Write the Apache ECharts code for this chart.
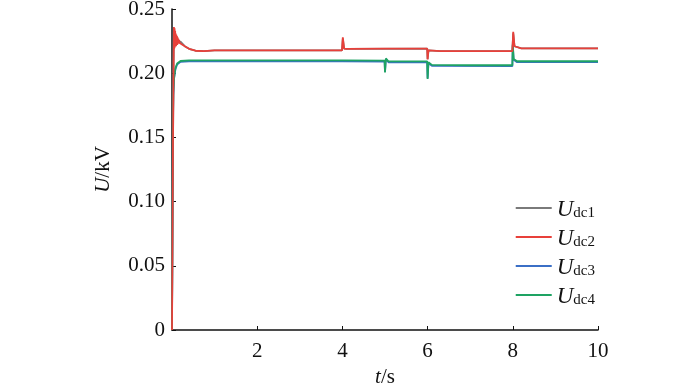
<!DOCTYPE html>
<html>
<head>
<meta charset="utf-8">
<script src="https://cdn.jsdelivr.net/npm/echarts@6/dist/echarts.min.js"></script>
<style>
  html, body { margin: 0; padding: 0; background: #fff; }
  #chart { width: 700px; height: 388px; }
</style>
</head>
<body>
<div id="chart"></div>
<script>
// series names (subscripts)
var seriesNames = ['dc1', 'dc2', 'dc3', 'dc4'];
var xTicks = [0, 2, 4, 6, 8, 10];
var yTicks = [0, 0.05, 0.10, 0.15, 0.20, 0.25];

// Udc2 - red, [t, U]
var udc2 = [
    [0, 0], [0.01, 0.06], [0.02, 0.13], [0.035, 0.2], [0.045, 0.236], [0.052, 0.219],
    [0.06, 0.235], [0.067, 0.22], [0.074, 0.233], [0.081, 0.221], [0.088, 0.231],
    [0.095, 0.221], [0.102, 0.23], [0.109, 0.222], [0.116, 0.229], [0.123, 0.222],
    [0.13, 0.228], [0.138, 0.223], [0.146, 0.227], [0.155, 0.223], [0.165, 0.226],
    [0.18, 0.2235], [0.2, 0.2245], [0.3, 0.221], [0.4, 0.219], [0.55, 0.2175],
    [0.75, 0.2172], [1, 0.2178], [2, 0.2178], [3, 0.2178], [3.99, 0.2178],
    [4.01, 0.228], [4.04, 0.2192], [4.1, 0.219], [5, 0.2192], [5.99, 0.2192],
    [6.0, 0.2107], [6.02, 0.2178], [6.3, 0.2172], [7, 0.2172], [7.99, 0.2172],
    [8.01, 0.2322], [8.04, 0.221], [8.2, 0.2193], [9, 0.2193], [10, 0.2193]
];
// Udc1 - gray, hidden under red
var udc1 = [
    [0, 0], [0.02, 0.13], [0.045, 0.234], [0.08, 0.222], [0.12, 0.224], [0.2, 0.2245],
    [0.3, 0.221], [0.4, 0.219], [0.55, 0.2175], [0.75, 0.2172], [1, 0.2178],
    [3.99, 0.2178], [4.01, 0.227], [4.04, 0.2192], [4.1, 0.219], [5.99, 0.2192],
    [6.0, 0.211], [6.02, 0.2178], [6.3, 0.2172], [7.99, 0.2172], [8.01, 0.231],
    [8.04, 0.221], [8.2, 0.2193], [10, 0.2193]
];
// Udc4 - green
var udc4 = [
    [0, 0], [0.01, 0.08], [0.02, 0.15], [0.03, 0.185], [0.05, 0.197], [0.08, 0.204],
    [0.12, 0.2075], [0.2, 0.2095], [0.4, 0.21], [1, 0.21], [2, 0.21], [3, 0.21],
    [4, 0.21], [4.99, 0.2098], [5.0, 0.2005], [5.02, 0.2115], [5.08, 0.2092],
    [5.99, 0.2092], [6.0, 0.1955], [6.02, 0.2085], [6.1, 0.2065], [7, 0.2062],
    [7.99, 0.2062], [8.0, 0.2225], [8.02, 0.211], [8.1, 0.2093], [9, 0.2093],
    [10, 0.2093]
];
// Udc3 - blue, just under green
var udc3 = [
    [0, 0], [0.01, 0.078], [0.02, 0.148], [0.03, 0.183], [0.05, 0.196], [0.08, 0.203],
    [0.12, 0.2068], [0.2, 0.2088], [0.4, 0.2093], [1, 0.2093], [4, 0.2093],
    [4.99, 0.2091], [5.0, 0.201], [5.02, 0.211], [5.08, 0.2085], [5.99, 0.2085],
    [6.0, 0.196], [6.02, 0.2078], [6.1, 0.2058], [7.99, 0.2055], [8.0, 0.222],
    [8.02, 0.2105], [8.1, 0.2086], [10, 0.2086]
];

var colors = ['#7a7a7a', '#e8403a', '#3b6fc6', '#1ea363'];
var serif = '"Liberation Serif", "DejaVu Serif", serif';

var chart = echarts.init(document.getElementById('chart'));

function makeSeries(i, data, z) {
    return {
        name: seriesNames[i],
        type: 'line',
        data: data,
        showSymbol: false,
        z: z,
        lineStyle: { color: colors[i], width: 1.8 },
        itemStyle: { color: colors[i] },
        animation: false
    };
}

var option = {
    backgroundColor: '#fff',
    grid: { left: 172, right: 102, top: 9, bottom: 58, containLabel: false, outerBoundsMode: 'none' },
    legend: {
        orient: 'vertical',
        right: 100,
        top: 193,
        itemWidth: 36,
        itemHeight: 2,
        itemGap: 6,
        icon: 'rect',
        data: seriesNames,
        formatter: function (name) {
            return '{i|U}{s|' + name + '}';
        },
        textStyle: {
            rich: {
                i: { fontFamily: serif, fontStyle: 'italic', fontSize: 23, color: '#111', verticalAlign: 'bottom' },
                s: { fontFamily: serif, fontSize: 15, color: '#111', padding: [11, 0, 0, 0], verticalAlign: 'bottom' }
            }
        }
    },
    xAxis: {
        type: 'value',
        min: 0,
        max: 10,
        interval: 2,
        name: '{i|t}/s',
        nameLocation: 'middle',
        nameGap: 37,
        nameTextStyle: {
            fontFamily: serif, fontSize: 21, color: '#111',
            rich: { i: { fontFamily: serif, fontStyle: 'italic', fontSize: 21, color: '#111' } }
        },
        axisLine: { show: true, lineStyle: { color: '#111', width: 1.5 } },
        axisTick: { show: true, inside: true, length: 4, lineStyle: { color: '#111' } },
        splitLine: { show: false },
        axisLabel: {
            fontFamily: serif, fontSize: 21, color: '#111', margin: 11,
            formatter: function (v) { return xTicks.indexOf(v) > 0 ? String(v) : ''; }
        }
    },
    yAxis: {
        type: 'value',
        min: 0,
        max: 0.25,
        interval: 0.05,
        name: '{i|U}/kV',
        nameLocation: 'middle',
        nameGap: 58,
        nameRotate: 90,
        nameTextStyle: {
            fontFamily: serif, fontSize: 21, color: '#111',
            rich: { i: { fontFamily: serif, fontStyle: 'italic', fontSize: 21, color: '#111' } }
        },
        axisLine: { show: true, lineStyle: { color: '#111', width: 1.5 } },
        axisTick: { show: true, inside: true, length: 4, lineStyle: { color: '#111' } },
        splitLine: { show: false },
        axisLabel: {
            fontFamily: serif, fontSize: 21, color: '#111', margin: 7,
            formatter: function (v) {
                var k = Math.round(v * 100) / 100;
                return k === 0 ? '0' : k.toFixed(2);
            }
        }
    },
    series: [
        makeSeries(0, udc1, 2),
        makeSeries(2, udc3, 3),
        makeSeries(3, udc4, 4),
        makeSeries(1, udc2, 5)
    ]
};
chart.setOption(option);
</script>
</body>
</html>
